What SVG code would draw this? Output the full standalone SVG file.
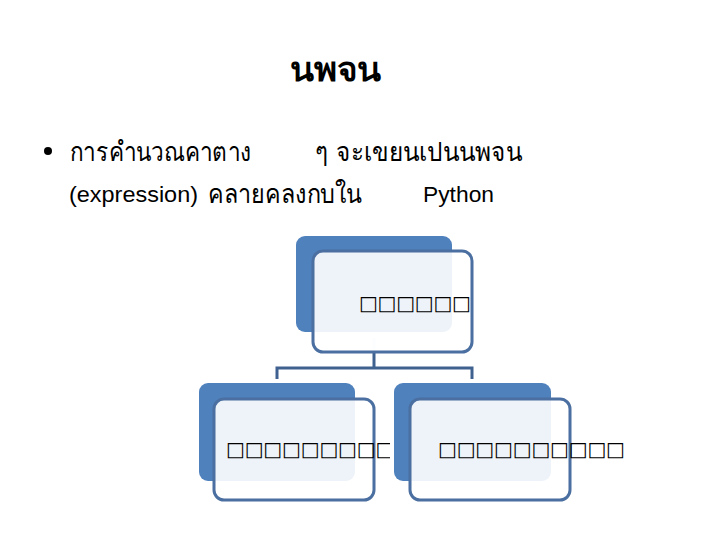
<svg xmlns="http://www.w3.org/2000/svg" width="720" height="540" viewBox="0 0 720 540">
<style>
.t{font-family:"DejaVu Sans","Noto Sans","Liberation Sans",sans-serif;fill:#000}
.th{font-size:27px;font-weight:normal}
.lat{font-family:"Liberation Sans","Noto Sans",sans-serif;font-size:22px;fill:#000}
.box-back{fill:#4F81BD}
.box-front{fill:#FFFFFF;fill-opacity:0.9;stroke:#4A6FA0;stroke-width:3}
.sq{font-family:"DejaVu Sans","Liberation Sans",sans-serif;font-size:20px;fill:#000}
.conn{fill:none;stroke:#3F618F;stroke-width:3}
</style>
<defs>
<clipPath id="clipL"><rect x="200" y="420" width="190" height="60"/></clipPath>
</defs>
<rect width="720" height="540" fill="#fff"/>
<g id="title"><text class="t" x="290" y="81" font-size="34" font-weight="bold" textLength="91" lengthAdjust="spacingAndGlyphs">นพจน</text></g>
<g id="bullet-text">
<circle cx="48" cy="151" r="4" fill="#000"/>
<text class="t th" x="70" y="161" textLength="181" lengthAdjust="spacingAndGlyphs">การคำนวณคาตาง</text>
<text class="t th" x="315" y="161" textLength="207" lengthAdjust="spacingAndGlyphs">ๆ จะเขยนเปนนพจน</text>
<text class="lat" x="69" y="202" textLength="129" lengthAdjust="spacingAndGlyphs">(expression)</text>
<text class="t th" x="208" y="203" textLength="154" lengthAdjust="spacingAndGlyphs">คลายคลงกบใน</text>
<text class="lat" x="423" y="202" textLength="71" lengthAdjust="spacingAndGlyphs">Python</text>
</g>
<g id="connectors">
<line x1="374" y1="338" x2="374" y2="352" stroke="#DCE3EE" stroke-width="3"/>
<path class="conn" d="M374 352 V368 M277 379 V368 H472 V379"/>
</g>
<g id="node-top">
<rect class="box-back" x="296" y="236" width="156" height="96" rx="9"/>
<rect class="box-front" x="313" y="251" width="159" height="101" rx="10"/>
<text class="sq" x="359" y="310" textLength="112">□□□□□□</text>
</g>
<g id="node-left">
<rect class="box-back" x="199" y="383" width="156" height="98" rx="9"/>
<rect class="box-front" x="214" y="399" width="160" height="101" rx="10"/>
<text class="sq" x="226" y="456" textLength="187" clip-path="url(#clipL)">□□□□□□□□□□</text>
</g>
<g id="node-right">
<rect class="box-back" x="394" y="383" width="157" height="98" rx="9"/>
<rect class="box-front" x="410" y="399" width="160" height="101" rx="10"/>
<text class="sq" x="438" y="456" textLength="187">□□□□□□□□□□</text>
</g>
</svg>
